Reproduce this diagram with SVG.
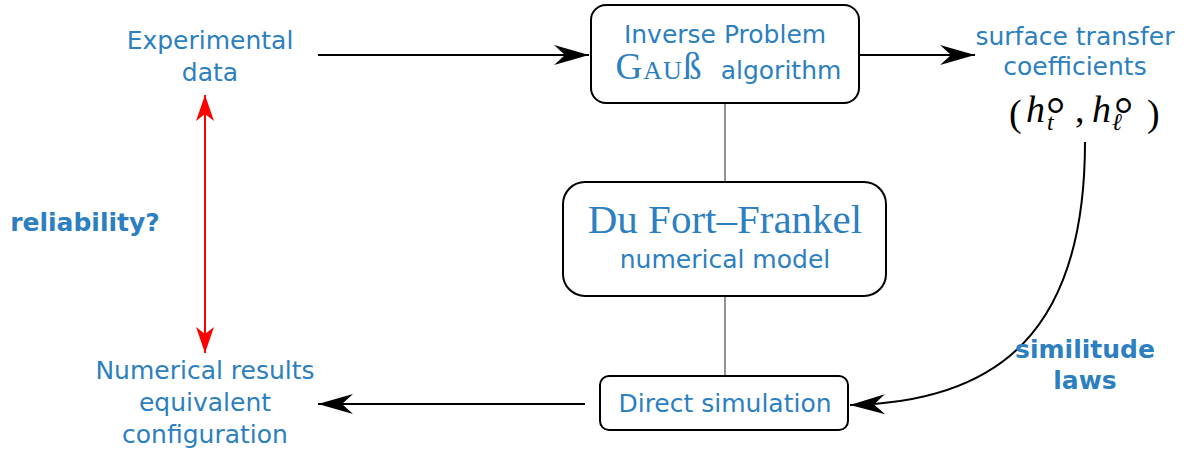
<svg xmlns="http://www.w3.org/2000/svg" width="1197" height="450" viewBox="0 0 1197 450">
<defs>
<style>
.t{font-family:"DejaVu Sans",sans-serif;font-size:25px;fill:#2c7fc0;text-anchor:middle}
.b{font-weight:bold}
.s{font-family:"Liberation Serif","DejaVu Serif",serif;fill:#2c7fc0;text-anchor:middle}
.m{font-family:"Liberation Serif","DejaVu Serif",serif;fill:#000;font-size:38px}
.i{font-style:italic}
.box{fill:#fff;stroke:#000;stroke-width:2}
.c{fill:none;stroke:#000;stroke-width:2}
.g{fill:none;stroke:#777;stroke-width:1.6}
</style>
<marker id="ah" markerUnits="userSpaceOnUse" viewBox="-36 -11 37 22" refX="0" refY="0" markerWidth="37" markerHeight="22" orient="auto">
<path d="M0,0 L-35,-10 L-24,0 L-35,10 z" fill="#000"/>
</marker>
<marker id="rh" markerUnits="userSpaceOnUse" viewBox="-27 -10 28 20" refX="0" refY="0" markerWidth="28" markerHeight="20" orient="auto-start-reverse">
<path d="M0,0 L-26,-9 L-19,0 L-26,9 z" fill="#f00"/>
</marker>
</defs>
<g id="connectors">
<line class="g" x1="725" y1="103" x2="725" y2="182"/>
<line class="g" x1="725" y1="296" x2="725" y2="376"/>
<line class="c" x1="318" y1="55" x2="589" y2="55" marker-end="url(#ah)"/>
<line class="c" x1="859" y1="55" x2="975" y2="55" marker-end="url(#ah)"/>
<line class="c" x1="585" y1="404" x2="318" y2="404" marker-end="url(#ah)"/>
<path class="c" d="M1085,142 C1085,330 1000,402 850,405" marker-end="url(#ah)"/>
<line x1="205" y1="95" x2="205" y2="353" stroke="#f00" stroke-width="2" marker-start="url(#rh)" marker-end="url(#rh)"/>
</g>
<g id="experimental">
<text class="t" x="210" y="49">Experimental</text>
<text class="t" x="210" y="81">data</text>
</g>
<g id="inverse">
<rect class="box" x="591" y="5" width="268" height="98" rx="15"/>
<text class="t" x="725" y="43">Inverse Problem</text>
<text class="s" x="659" y="79" style="font-size:37px;letter-spacing:1px">G<tspan style="font-size:26px">AU</tspan>ß</text>
<text class="t" x="781" y="79">algorithm</text>
</g>
<g id="surface">
<text class="t" x="1075" y="45">surface transfer</text>
<text class="t" x="1075" y="75">coefficients</text>
<text class="m"><tspan x="1009" y="126">(</tspan><tspan class="i" x="1026" y="122">h</tspan><tspan x="1046" y="131" style="font-size:48px">°</tspan><tspan class="i" x="1047" y="130" style="font-size:24px">t</tspan><tspan x="1075" y="122">,</tspan><tspan class="i" x="1092" y="122">h</tspan><tspan x="1114" y="131" style="font-size:48px">°</tspan><tspan class="i" x="1112" y="130" style="font-size:24px">ℓ</tspan><tspan x="1147" y="126">)</tspan></text>
</g>
<g id="reliability">
<text class="t b" x="85" y="231">reliability?</text>
</g>
<g id="dufort">
<rect class="box" x="563" y="182" width="323" height="114" rx="22"/>
<text class="s" x="725" y="233" style="font-size:41px">Du Fort–Frankel</text>
<text class="t" x="725" y="268">numerical model</text>
</g>
<g id="similitude">
<text class="t b" x="1085" y="358">similitude</text>
<text class="t b" x="1085" y="389">laws</text>
</g>
<g id="direct">
<rect class="box" x="600" y="376" width="248" height="54" rx="9"/>
<text class="t" x="725" y="412">Direct simulation</text>
</g>
<g id="numerical">
<text class="t" x="205" y="379">Numerical results</text>
<text class="t" x="205" y="411">equivalent</text>
<text class="t" x="205" y="443">configuration</text>
</g>
</svg>
